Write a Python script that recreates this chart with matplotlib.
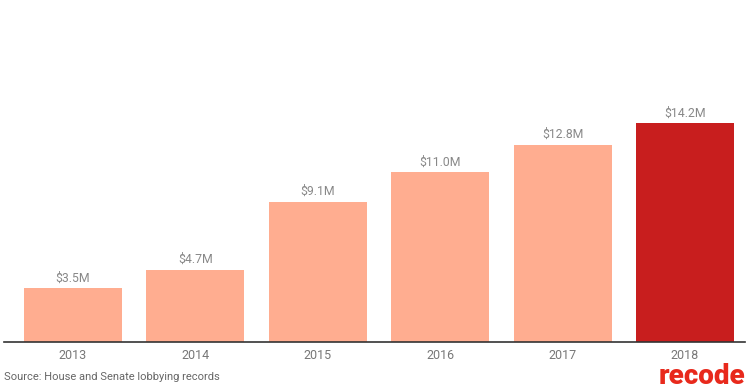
import matplotlib
matplotlib.use("Agg")
import matplotlib.pyplot as plt

years = ["2013", "2014", "2015", "2016", "2017", "2018"]
values = [3.5, 4.7, 9.1, 11.0, 12.8, 14.2]
labels = ["$3.5M", "$4.7M", "$9.1M", "$11.0M", "$12.8M", "$14.2M"]
colors = ["#FFAD90"] * 5 + ["#C81E1E"]

plt.rcParams['font.family'] = ['Roboto', 'DejaVu Sans']

fig = plt.figure(figsize=(7.49, 3.92), dpi=100)
ax = fig.add_axes([0, 50/392, 1, 342/392])
x = list(range(len(years)))
bars = ax.bar(x, values, width=0.8, color=colors, zorder=2)
for xi, v, lab in zip(x, values, labels):
    ax.annotate(lab.replace("$", r"\$"), (xi, v), xytext=(0, 2.5), textcoords="offset points",
                ha="center", va="bottom", fontsize=8.8, color="#888888")
ax.set_xlim(-0.596, 5.523)
ax.set_ylim(0, 342/15.42)
for s in ["top", "right", "left"]:
    ax.spines[s].set_visible(False)
ax.spines["bottom"].set_color("#333333")
ax.spines["bottom"].set_linewidth(1.2)
ax.spines["bottom"].set_bounds(-0.563, 5.49)
ax.set_yticks([])
ax.set_xticks(x)
ax.set_xticklabels(years, fontsize=9, color="#777777")
ax.tick_params(axis="x", length=0, pad=5)
ax.patch.set_alpha(0)

fig.text(4/749, 1 - 377/392, "Source: House and Senate lobbying records",
         fontsize=8.0, color="#666666", ha="left", va="center")
fig.text(745/749, 1 - 376/392, "recode", fontsize=20, fontweight="black",
         color="#E8291C", ha="right", va="center")

fig.savefig("out.png", dpi=100)
